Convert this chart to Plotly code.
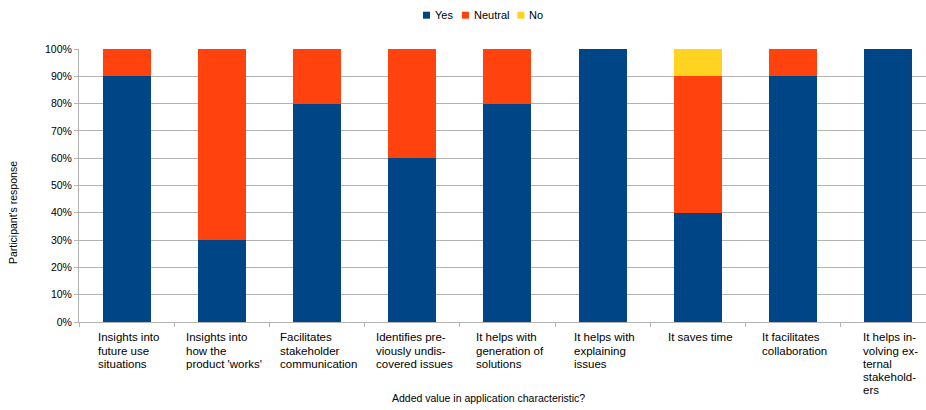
import plotly.graph_objects as go

categories = [
    "Insights into\nfuture use\nsituations",
    "Insights into\nhow the\nproduct 'works'",
    "Facilitates\nstakeholder\ncommunication",
    "Identifies pre-\nviously undis-\ncovered issues",
    "It helps with\ngeneration of\nsolutions",
    "It helps with\nexplaining\nissues",
    "It saves time",
    "It facilitates\ncollaboration",
    "It helps in-\nvolving ex-\nternal\nstakehold-\ners",
]
series_names = ["Yes", "Neutral", "No"]
yes_vals = [0.9, 0.3, 0.8, 0.6, 0.8, 1.0, 0.4, 0.9, 1.0]
neutral_vals = [0.1, 0.7, 0.2, 0.4, 0.2, 0.0, 0.5, 0.1, 0.0]
no_vals = [0.0, 0.0, 0.0, 0.0, 0.0, 0.0, 0.1, 0.0, 0.0]
colors = ["#004586", "#ff420e", "#ffd320"]
y_title = "Participant's response"
x_title = "Added value in application characteristic?"

FONT = "Liberation Sans, Arial, sans-serif"
W, H = 926, 410
L, R_EDGE, T, B = 79, 926, 49, 322
PW, PH = R_EDGE - L, B - T
CAT_W = 95.2
n = len(categories)

# Arial / Liberation Sans advance widths (1/1000 em)
AW = {' ': 278, "'": 191, '-': 333, '?': 556, 'a': 556, 'b': 556, 'c': 500, 'd': 556,
      'e': 556, 'f': 278, 'g': 556, 'h': 556, 'i': 222, 'j': 222, 'k': 500, 'l': 222,
      'm': 833, 'n': 556, 'o': 556, 'p': 556, 'q': 556, 'r': 333, 's': 500, 't': 278,
      'u': 556, 'v': 500, 'w': 722, 'x': 500, 'y': 500, 'z': 500, 'I': 278, 'F': 611,
      'Y': 667, 'N': 722, 'A': 667, 'P': 667}


def tw(s, size):
    return sum(AW.get(c, 556) for c in s) / 1000.0 * size


def px_x(px):
    return (px - L) / PW


def px_y(py):
    return (B - py) / PH


fig = go.Figure()
for name, vals, col in zip(series_names, [yes_vals, neutral_vals, no_vals], colors):
    fig.add_trace(go.Bar(x=list(range(n)), y=vals, name=name, marker_color=col,
                         marker_line_width=0, width=0.504, showlegend=False))

annotations = []
shapes = []

# category labels: block centered under category, lines left-aligned
LF = 11.5
LINE_H = 13.3
for i, lab in enumerate(categories):
    lines = lab.split("\n")
    bw = max(tw(s, LF) for s in lines)
    for j, s in enumerate(lines):
        annotations.append(dict(
            x=i, xref="x", y=0, yref="paper", text=s, showarrow=False,
            xanchor="left", yanchor="middle", align="left",
            xshift=-bw / 2, yshift=-(337.2 + j * LINE_H - B),
            font=dict(family=FONT, size=LF, color="#000000")))

# axis titles
annotations.append(dict(x=px_x(13), y=px_y(213), xref="paper", yref="paper",
                        text=y_title, textangle=-90, showarrow=False,
                        xanchor="center", yanchor="middle",
                        font=dict(family=FONT, size=10.5, color="#000000")))
annotations.append(dict(x=px_x(488), y=px_y(397.8), xref="paper", yref="paper",
                        text=x_title, showarrow=False,
                        xanchor="center", yanchor="middle",
                        font=dict(family=FONT, size=10.5, color="#000000")))

# legend
lx = 423
ly = 15.2
for name, col in zip(series_names, colors):
    shapes.append(dict(type="rect", xref="paper", yref="paper",
                       x0=px_x(lx), x1=px_x(lx + 7), y0=px_y(ly - 3.5), y1=px_y(ly + 3.5),
                       fillcolor=col, line_width=0))
    annotations.append(dict(x=px_x(lx + 11), y=px_y(ly), xref="paper", yref="paper",
                            text=name, showarrow=False, xanchor="left", yanchor="middle",
                            xshift=-1, font=dict(family=FONT, size=11, color="#000000")))
    lx += 11 + tw(name, 11) + 9

x_end = -0.5 + PW / CAT_W
fig.update_layout(
    width=W, height=H, barmode="stack", bargap=0,
    margin=dict(l=L, r=W - R_EDGE, t=T, b=H - B, pad=0),
    paper_bgcolor="white", plot_bgcolor="white",
    showlegend=False,
    annotations=annotations, shapes=shapes,
    font=dict(family=FONT, size=10.5, color="#000000"),
    xaxis=dict(range=[-0.5, x_end], tickmode="array",
               tickvals=[k - 0.5 for k in range(n + 1)],
               ticktext=["" for _ in range(n + 1)],
               ticks="outside", ticklen=4, tickcolor="#b3b3b3", tickwidth=1,
               showgrid=False, zeroline=False, showline=True,
               linecolor="#b3b3b3", linewidth=1, fixedrange=True),
    yaxis=dict(range=[0, 1], dtick=0.1, tick0=0, tickformat=".0%",
               ticks="outside", ticklen=4, tickcolor="#b3b3b3", tickwidth=1,
               showgrid=True, gridcolor="#b3b3b3", gridwidth=1,
               zeroline=False, showline=True, linecolor="#b3b3b3", linewidth=1,
               tickfont=dict(family=FONT, size=10.5, color="#000000"),
               fixedrange=True),
)
fig.write_html("out.html")
